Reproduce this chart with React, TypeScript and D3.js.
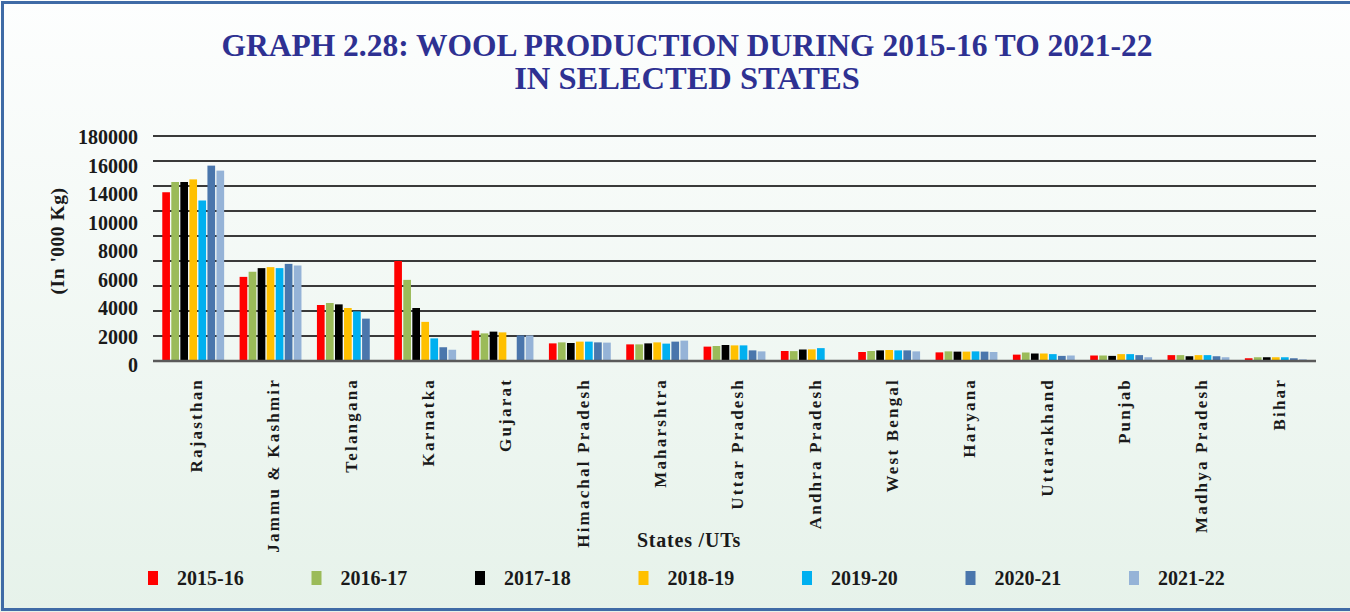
import React, { useEffect, useRef } from "react";
import * as d3 from "d3";

const states = [
  "Rajasthan",
  "Jammu & Kashmir",
  "Telangana",
  "Karnatka",
  "Gujarat",
  "Himachal Pradesh",
  "Maharshtra",
  "Uttar Pradesh",
  "Andhra Pradesh",
  "West Bengal",
  "Haryana",
  "Uttarakhand",
  "Punjab",
  "Madhya Pradesh",
  "Bihar",
];

const years = ["2015-16", "2016-17", "2017-18", "2018-19", "2019-20", "2020-21", "2021-22"];
const colors = ["#ff0000", "#9bbb59", "#000000", "#ffc000", "#00b0f0", "#4a76ac", "#95b3d7"];

// values in '000 kg, one array per year, in the order of states
const y2015 = [13500, 6730, 4480, 8000, 2430, 1410, 1330, 1150, 800, 720, 690, 510, 440, 470, 220];
const y2016 = [14320, 7140, 4640, 6490, 2210, 1490, 1330, 1200, 790, 800, 770, 680, 440, 470, 300];
const y2017 = [14320, 7430, 4530, 4240, 2350, 1440, 1410, 1280, 920, 850, 750, 600, 410, 380, 300];
const y2018 = [14530, 7510, 4240, 3130, 2290, 1550, 1490, 1250, 930, 880, 750, 600, 550, 470, 300];
const y2019 = [12840, 7430, 3970, 1810, null, 1550, 1390, 1250, 1030, 850, 770, 550, 550, 470, 300];
const y2020 = [15630, 7770, 3390, 1100, 2050, 1490, 1550, 850, null, 850, 750, 410, 470, 380, 220];
const y2021 = [15230, 7640, null, 900, 2050, 1470, 1630, 770, null, 770, 720, 440, 300, 300, 140];

const series = [y2015, y2016, y2017, y2018, y2019, y2020, y2021];

// tick labels as printed on the chart
const tickLabels = ["0", "2000", "4000", "6000", "8000", "10000", "14000", "16000", "180000"];

const W = 1350;
const H = 612;
const FONT = "'Liberation Serif', 'Times New Roman', serif";

export default function App() {
  const ref = useRef<SVGSVGElement>(null);

  useEffect(() => {
    const svg = d3.select(ref.current);
    svg.selectAll("*").remove();

    const defs = svg.append("defs");
    const grad = defs
      .append("linearGradient")
      .attr("id", "bg")
      .attr("x1", 0)
      .attr("y1", 0)
      .attr("x2", 0)
      .attr("y2", 1);
    grad.append("stop").attr("offset", "0%").attr("stop-color", "#fdfefe");
    grad.append("stop").attr("offset", "100%").attr("stop-color", "#e6f2ea");

    svg.append("rect").attr("width", W).attr("height", H).attr("fill", "url(#bg)");
    svg
      .append("rect")
      .attr("x", 2.5)
      .attr("y", 2.5)
      .attr("width", W + 10)
      .attr("height", H - 5)
      .attr("fill", "none")
      .attr("stroke", "#3f6ba6")
      .attr("stroke-width", 3);

    // title
    const title = svg
      .append("text")
      .attr("x", 687)
      .attr("text-anchor", "middle")
      .attr("font-family", FONT)
      .attr("font-weight", "bold")
      .attr("font-size", 31.5)
      .attr("fill", "#2e3192");
    title.append("tspan").attr("x", 687).attr("y", 56).text("GRAPH 2.28: WOOL PRODUCTION DURING 2015-16 TO 2021-22");
    title.append("tspan").attr("x", 687).attr("y", 89).attr("font-size", 32.5).text("IN SELECTED STATES");

    const left = 153;
    const right = 1316;

    const y = d3.scaleLinear().domain([0, 18000]).range([361, 136]);
    const x0 = d3.scaleBand().domain(states).range([left, right]).paddingInner(0.2).paddingOuter(0.12);
    const x1 = d3.scaleBand().domain(years).range([0, x0.bandwidth()]).paddingInner(0.15);

    // gridlines
    svg
      .append("g")
      .selectAll("line")
      .data(d3.range(2000, 18001, 2000))
      .enter()
      .append("line")
      .attr("x1", left)
      .attr("x2", right)
      .attr("y1", (d) => y(d))
      .attr("y2", (d) => y(d))
      .attr("stroke", "#3a3a3a")
      .attr("stroke-width", 2);

    // y tick labels
    const labelPos = d3.scalePoint().domain(tickLabels).range([365, 137]);
    svg
      .append("g")
      .selectAll("text")
      .data(tickLabels)
      .enter()
      .append("text")
      .attr("x", 138)
      .attr("y", (d) => labelPos(d))
      .attr("dy", "0.35em")
      .attr("text-anchor", "end")
      .attr("font-family", FONT)
      .attr("font-weight", "bold")
      .attr("font-size", 20)
      .attr("fill", "#1a1a1a")
      .text((d) => d);

    // bars
    const groups = svg
      .append("g")
      .selectAll("g")
      .data(states)
      .enter()
      .append("g")
      .attr("transform", (d) => `translate(${x0(d)},0)`);

    groups
      .selectAll("rect")
      .data((d, i) =>
        years.map((yr, j) => ({ yr, color: colors[j], v: series[j][i] })).filter((b) => b.v != null)
      )
      .enter()
      .append("rect")
      .attr("x", (d) => x1(d.yr))
      .attr("y", (d) => y(d.v))
      .attr("width", x1.bandwidth())
      .attr("height", (d) => y(0) - y(d.v))
      .attr("fill", (d) => d.color);

    // baseline
    svg
      .append("line")
      .attr("x1", left)
      .attr("x2", right)
      .attr("y1", y(0))
      .attr("y2", y(0))
      .attr("stroke", "#5a5a5a")
      .attr("stroke-width", 2.5);

    // category labels
    svg
      .append("g")
      .selectAll("text")
      .data(states)
      .enter()
      .append("text")
      .attr("transform", (d) => `translate(${x0(d) + x0.bandwidth() / 2 + 3},378) rotate(-90)`)
      .attr("dy", "0.35em")
      .attr("text-anchor", "end")
      .attr("font-family", FONT)
      .attr("font-weight", "bold")
      .attr("font-size", 17)
      .attr("letter-spacing", 2.2)
      .attr("fill", "#1a1a1a")
      .text((d) => d);

    // axis titles
    svg
      .append("text")
      .attr("transform", "translate(57,241) rotate(-90)")
      .attr("dy", "0.35em")
      .attr("text-anchor", "middle")
      .attr("font-family", FONT)
      .attr("font-weight", "bold")
      .attr("font-size", 19.5)
      .attr("letter-spacing", 0.5)
      .attr("fill", "#1a1a1a")
      .text("(In '000 Kg)");

    svg
      .append("text")
      .attr("x", 689)
      .attr("y", 547)
      .attr("text-anchor", "middle")
      .attr("font-family", FONT)
      .attr("font-weight", "bold")
      .attr("font-size", 20)
      .attr("letter-spacing", 0.8)
      .attr("fill", "#1a1a1a")
      .text("States /UTs");

    // legend
    const lx = d3.scalePoint().domain(years).range([148, 1129]);
    const legend = svg
      .append("g")
      .selectAll("g")
      .data(years)
      .enter()
      .append("g")
      .attr("transform", (d) => `translate(${lx(d)},578)`);
    legend
      .append("rect")
      .attr("x", 0)
      .attr("y", -7)
      .attr("width", 10)
      .attr("height", 14)
      .attr("fill", (d, i) => colors[i]);
    legend
      .append("text")
      .attr("x", 29)
      .attr("dy", "0.35em")
      .attr("font-family", FONT)
      .attr("font-weight", "bold")
      .attr("font-size", 20)
      .attr("fill", "#1a1a1a")
      .text((d) => d);
  }, []);

  return (
    <div style={{ position: "absolute", left: 0, top: 0 }}>
      <svg ref={ref} width={W} height={H} style={{ display: "block" }}></svg>
    </div>
  );
}
